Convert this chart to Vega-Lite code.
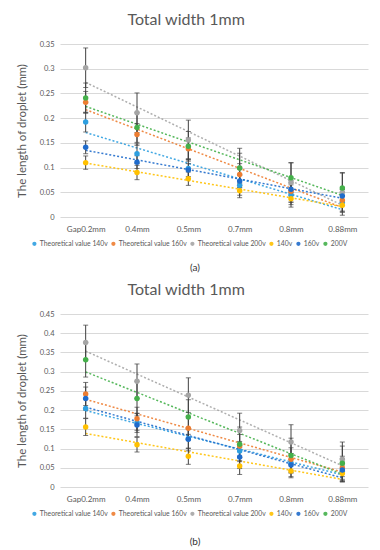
{
  "$schema": "https://vega.github.io/schema/vega-lite/v6.json",
  "background": "white",
  "padding": {"left": 16, "top": 12, "right": 4, "bottom": 0},
  "config": {
    "font": "Lato",
    "view": {"stroke": null},
    "title": {"fontSize": 16, "fontWeight": "normal", "color": "#595959", "frame": "bounds", "anchor": "middle", "offset": 12, "dx": -6},
    "legend": {"orient": "none", "legendX": -29, "legendY": 196, "direction": "horizontal", "columns": 6, "title": null, "symbolType": "circle", "symbolSize": 18, "labelFontSize": 6.8, "labelColor": "#595959", "columnPadding": 2, "labelOffset": 2, "padding": 0, "symbolStrokeWidth": 0}
  },
  "spacing": 9,
  "resolve": {"scale": {"color": "independent"}, "legend": {"color": "independent"}},
  "datasets": {
    "a": [
      {"s": "Theoretical value 140v", "i": 1, "v": 0.192, "e": 0.02},
      {"s": "Theoretical value 140v", "i": 2, "v": 0.128, "e": 0.02},
      {"s": "Theoretical value 140v", "i": 3, "v": 0.098, "e": 0.02},
      {"s": "Theoretical value 140v", "i": 4, "v": 0.064, "e": 0.02},
      {"s": "Theoretical value 140v", "i": 5, "v": 0.045, "e": 0.02},
      {"s": "Theoretical value 140v", "i": 6, "v": 0.030, "e": 0.02},
      {"s": "Theoretical value 160v", "i": 1, "v": 0.232, "e": 0.022},
      {"s": "Theoretical value 160v", "i": 2, "v": 0.167, "e": 0.022},
      {"s": "Theoretical value 160v", "i": 3, "v": 0.138, "e": 0.022},
      {"s": "Theoretical value 160v", "i": 4, "v": 0.086, "e": 0.022},
      {"s": "Theoretical value 160v", "i": 5, "v": 0.052, "e": 0.022},
      {"s": "Theoretical value 160v", "i": 6, "v": 0.034, "e": 0.022},
      {"s": "Theoretical value 200v", "i": 1, "v": 0.302, "e": 0.04},
      {"s": "Theoretical value 200v", "i": 2, "v": 0.211, "e": 0.04},
      {"s": "Theoretical value 200v", "i": 3, "v": 0.156, "e": 0.04},
      {"s": "Theoretical value 200v", "i": 4, "v": 0.099, "e": 0.04},
      {"s": "Theoretical value 200v", "i": 5, "v": 0.070, "e": 0.04},
      {"s": "Theoretical value 200v", "i": 6, "v": 0.050, "e": 0.04},
      {"s": "140v", "i": 1, "v": 0.110, "e": 0.0135},
      {"s": "140v", "i": 2, "v": 0.090, "e": 0.0145},
      {"s": "140v", "i": 3, "v": 0.0775, "e": 0.0135},
      {"s": "140v", "i": 4, "v": 0.053, "e": 0.014},
      {"s": "140v", "i": 5, "v": 0.037, "e": 0.017},
      {"s": "140v", "i": 6, "v": 0.0236, "e": 0.02},
      {"s": "160v", "i": 1, "v": 0.141, "e": 0.013},
      {"s": "160v", "i": 2, "v": 0.111, "e": 0.013},
      {"s": "160v", "i": 3, "v": 0.095, "e": 0.013},
      {"s": "160v", "i": 4, "v": 0.073, "e": 0.013},
      {"s": "160v", "i": 5, "v": 0.056, "e": 0.013},
      {"s": "160v", "i": 6, "v": 0.0425, "e": 0.013},
      {"s": "200V", "i": 1, "v": 0.241, "e": 0.03},
      {"s": "200V", "i": 2, "v": 0.181, "e": 0.03},
      {"s": "200V", "i": 3, "v": 0.143, "e": 0.03},
      {"s": "200V", "i": 4, "v": 0.099, "e": 0.03},
      {"s": "200V", "i": 5, "v": 0.0795, "e": 0.03},
      {"s": "200V", "i": 6, "v": 0.0587, "e": 0.03}
    ],
    "b": [
      {"s": "Theoretical value 140v", "i": 1, "v": 0.204, "e": 0.025},
      {"s": "Theoretical value 140v", "i": 2, "v": 0.167, "e": 0.025},
      {"s": "Theoretical value 140v", "i": 3, "v": 0.1255, "e": 0.025},
      {"s": "Theoretical value 140v", "i": 4, "v": 0.0935, "e": 0.025},
      {"s": "Theoretical value 140v", "i": 5, "v": 0.0615, "e": 0.025},
      {"s": "Theoretical value 140v", "i": 6, "v": 0.040, "e": 0.025},
      {"s": "Theoretical value 160v", "i": 1, "v": 0.242, "e": 0.03},
      {"s": "Theoretical value 160v", "i": 2, "v": 0.1775, "e": 0.03},
      {"s": "Theoretical value 160v", "i": 3, "v": 0.153, "e": 0.03},
      {"s": "Theoretical value 160v", "i": 4, "v": 0.1065, "e": 0.03},
      {"s": "Theoretical value 160v", "i": 5, "v": 0.072, "e": 0.03},
      {"s": "Theoretical value 160v", "i": 6, "v": 0.050, "e": 0.03},
      {"s": "Theoretical value 200v", "i": 1, "v": 0.376, "e": 0.045},
      {"s": "Theoretical value 200v", "i": 2, "v": 0.275, "e": 0.045},
      {"s": "Theoretical value 200v", "i": 3, "v": 0.239, "e": 0.045},
      {"s": "Theoretical value 200v", "i": 4, "v": 0.147, "e": 0.045},
      {"s": "Theoretical value 200v", "i": 5, "v": 0.117, "e": 0.045},
      {"s": "Theoretical value 200v", "i": 6, "v": 0.072, "e": 0.045},
      {"s": "140v", "i": 1, "v": 0.156, "e": 0.022},
      {"s": "140v", "i": 2, "v": 0.110, "e": 0.019},
      {"s": "140v", "i": 3, "v": 0.080, "e": 0.021},
      {"s": "140v", "i": 4, "v": 0.0546, "e": 0.022},
      {"s": "140v", "i": 5, "v": 0.0415, "e": 0.0175},
      {"s": "140v", "i": 6, "v": 0.035, "e": 0.022},
      {"s": "160v", "i": 1, "v": 0.230, "e": 0.03},
      {"s": "160v", "i": 2, "v": 0.161, "e": 0.03},
      {"s": "160v", "i": 3, "v": 0.124, "e": 0.03},
      {"s": "160v", "i": 4, "v": 0.078, "e": 0.03},
      {"s": "160v", "i": 5, "v": 0.057, "e": 0.03},
      {"s": "160v", "i": 6, "v": 0.044, "e": 0.03},
      {"s": "200V", "i": 1, "v": 0.331, "e": 0.045},
      {"s": "200V", "i": 2, "v": 0.230, "e": 0.045},
      {"s": "200V", "i": 3, "v": 0.182, "e": 0.045},
      {"s": "200V", "i": 4, "v": 0.111, "e": 0.045},
      {"s": "200V", "i": 5, "v": 0.082, "e": 0.045},
      {"s": "200V", "i": 6, "v": 0.0615, "e": 0.045}
    ]
  },
  "vconcat": [
    {
      "title": "Total width 1mm",
      "width": 308,
      "height": 173,
      "data": {"name": "a"},
      "encoding": {
        "x": {"field": "i", "type": "quantitative", "scale": {"domain": [0.5, 6.5], "nice": false, "zero": false},
          "axis": {"values": [1, 2, 3, 4, 5, 6], "labelExpr": "['Gap0.2mm','0.4mm','0.5mm','0.7mm','0.8mm','0.88mm'][datum.value-1]", "grid": false, "ticks": false, "domain": false, "title": null, "labelFontSize": 8, "labelColor": "#595959", "labelPadding": 8}},
        "y": {"field": "v", "type": "quantitative", "scale": {"domain": [0, 0.35], "nice": false},
          "axis": {"title": "The length of droplet (mm)", "titleFontSize": 11.5, "titleFontWeight": "normal", "titleColor": "#595959", "titlePadding": 12, "labelFontSize": 7.5, "labelColor": "#595959", "labelPadding": 6, "format": ".2~f", "values": [0, 0.05, 0.1, 0.15, 0.2, 0.25, 0.3, 0.35], "domain": false, "ticks": false, "gridColor": "#d9d9d9"}},
        "color": {"field": "s", "type": "nominal",
          "scale": {"domain": ["Theoretical value 140v", "Theoretical value 160v", "Theoretical value 200v", "140v", "160v", "200V"], "range": ["#2E9FE0", "#ED7D31", "#A5A5A5", "#FFC000", "#1F6BCB", "#44B04A"]}}
      },
      "layer": [
        {
          "transform": [{"regression": "v", "on": "i", "groupby": ["s"], "extent": [1, 6]}],
          "mark": {"type": "line", "strokeDash": [2, 2], "strokeWidth": 1.5, "opacity": 0.9}
        },
        {
          "mark": {"type": "errorbar", "ticks": {"size": 5}, "color": "#404040", "thickness": 1},
          "encoding": {"yError": {"field": "e"}, "color": {"value": "#404040"}}
        },
        {
          "mark": {"type": "circle", "size": 30, "opacity": 1}
        }
      ]
    },
    {
      "width": 270,
      "height": 12,
      "data": {"values": [{"c": "(a)"}]},
      "mark": {"type": "text", "fontSize": 10, "color": "#333333", "dy": 5},
      "encoding": {"text": {"field": "c"}}
    },
    {
      "title": "Total width 1mm",
      "width": 308,
      "height": 173,
      "data": {"name": "b"},
      "encoding": {
        "x": {"field": "i", "type": "quantitative", "scale": {"domain": [0.5, 6.5], "nice": false, "zero": false},
          "axis": {"values": [1, 2, 3, 4, 5, 6], "labelExpr": "['Gap0.2mm','0.4mm','0.5mm','0.7mm','0.8mm','0.88mm'][datum.value-1]", "grid": false, "ticks": false, "domain": false, "title": null, "labelFontSize": 8, "labelColor": "#595959", "labelPadding": 8}},
        "y": {"field": "v", "type": "quantitative", "scale": {"domain": [0, 0.45], "nice": false},
          "axis": {"title": "The length of droplet (mm)", "titleFontSize": 11.5, "titleFontWeight": "normal", "titleColor": "#595959", "titlePadding": 12, "labelFontSize": 7.5, "labelColor": "#595959", "labelPadding": 6, "format": ".2~f", "values": [0, 0.05, 0.1, 0.15, 0.2, 0.25, 0.3, 0.35, 0.4, 0.45], "domain": false, "ticks": false, "gridColor": "#d9d9d9"}},
        "color": {"field": "s", "type": "nominal",
          "scale": {"domain": ["Theoretical value 140v", "Theoretical value 160v", "Theoretical value 200v", "140v", "160v", "200V"], "range": ["#2E9FE0", "#ED7D31", "#A5A5A5", "#FFC000", "#1F6BCB", "#44B04A"]}}
      },
      "layer": [
        {
          "transform": [{"regression": "v", "on": "i", "groupby": ["s"], "extent": [1, 6]}],
          "mark": {"type": "line", "strokeDash": [2, 2], "strokeWidth": 1.5, "opacity": 0.9}
        },
        {
          "mark": {"type": "errorbar", "ticks": {"size": 5}, "color": "#404040", "thickness": 1},
          "encoding": {"yError": {"field": "e"}, "color": {"value": "#404040"}}
        },
        {
          "mark": {"type": "circle", "size": 30, "opacity": 1}
        }
      ]
    },
    {
      "width": 270,
      "height": 12,
      "data": {"values": [{"c": "(b)"}]},
      "mark": {"type": "text", "fontSize": 10, "color": "#333333", "dy": 9},
      "encoding": {"text": {"field": "c"}}
    }
  ]
}
